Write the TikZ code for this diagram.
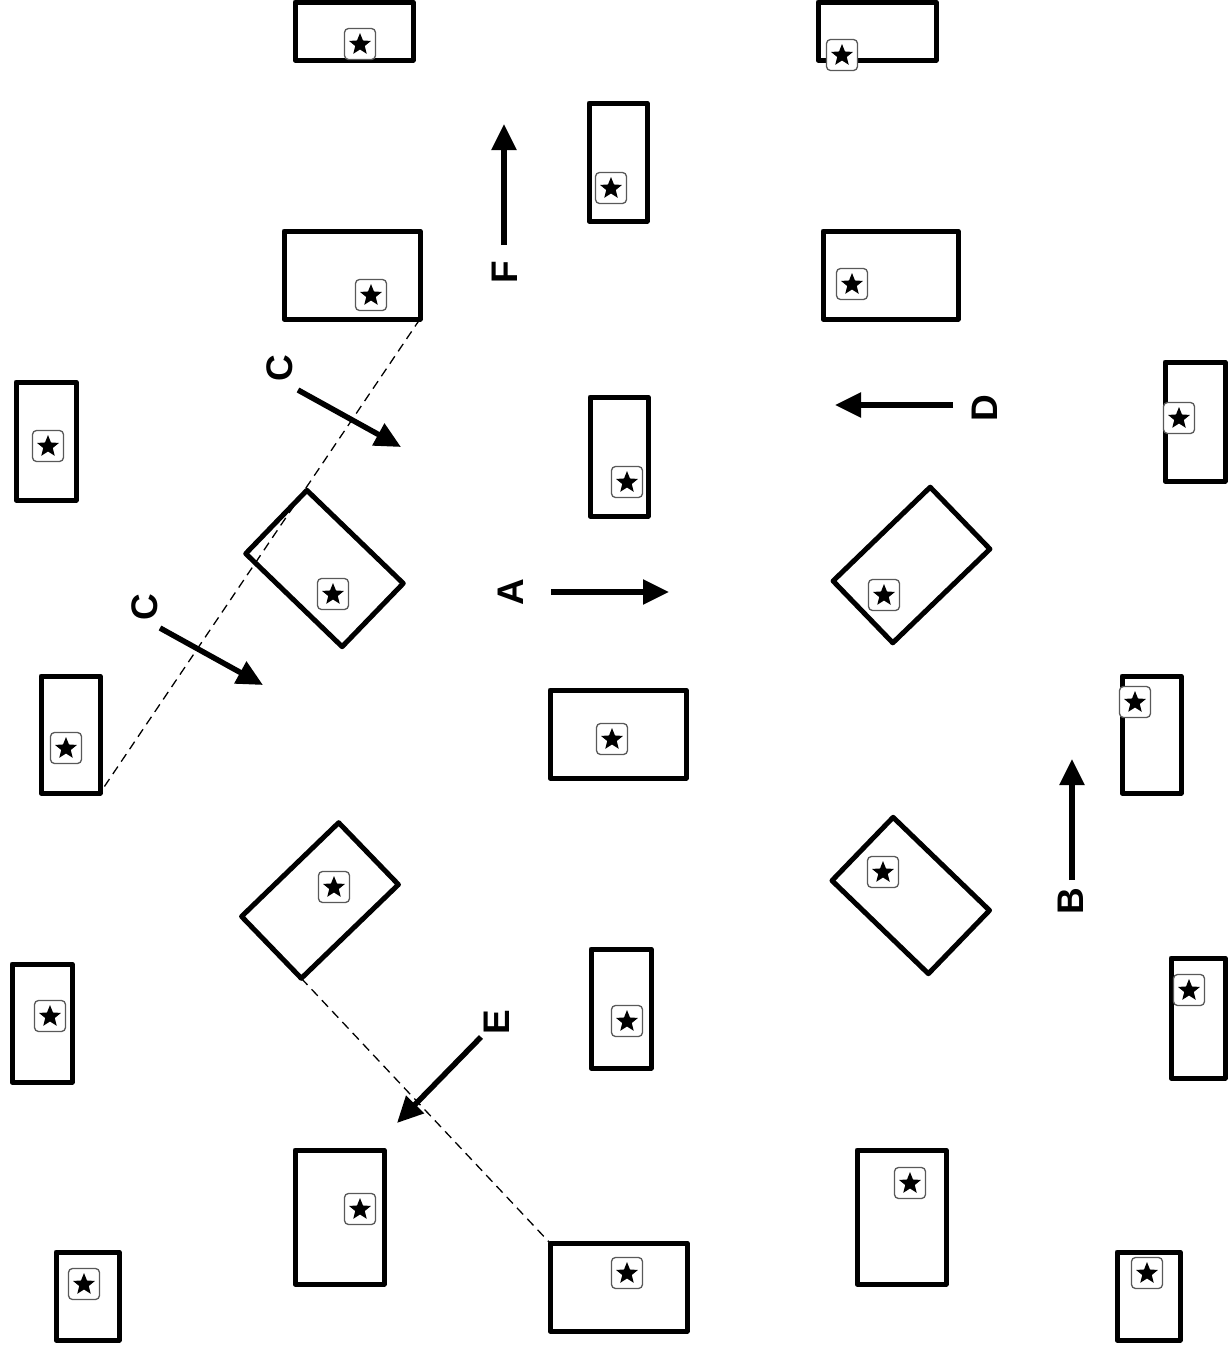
\documentclass[tikz,border=0pt]{standalone}
\usepackage{fontspec}
\setmainfont{Liberation Sans}
\usetikzlibrary{shapes.geometric,arrows.meta}
\begin{document}
\begin{tikzpicture}[x=1pt,y=-1pt,
  lot/.style={draw=black,line width=5pt,inner sep=0pt,outer sep=0pt,rectangle,line join=round},
  badge/.style={draw=black!65,line width=1.3pt,fill=white,rounded corners=4pt,minimum size=31pt,inner sep=0pt,rectangle},
  starmark/.style={star,star points=5,star point ratio=2.3,fill=black,minimum size=23pt,inner sep=0pt},
  flow/.style={line width=5.5pt,-{Triangle[length=26pt,width=24pt]}},
  lbl/.style={font=\fontsize{37}{40}\selectfont\bfseries,rotate=90,inner sep=0pt},
  guide/.style={line width=1.3pt,dash pattern=on 9pt off 6pt}]
\useasboundingbox (0,0) rectangle (1228,1355);
% upright rectangles
\node[lot,minimum width=118pt,minimum height=58pt] (n1) at (354,31) {};
\node[lot,minimum width=118pt,minimum height=58pt] (n2) at (877,31) {};
\node[lot,minimum width=58pt,minimum height=118pt] (n3) at (618,162) {};
\node[lot,minimum width=136pt,minimum height=88pt] (n4) at (352,275) {};
\node[lot,minimum width=135pt,minimum height=88pt] (n5) at (890.5,275) {};
\node[lot,minimum width=60pt,minimum height=118pt] (n6) at (46,441) {};
\node[lot,minimum width=60pt,minimum height=119pt] (n7) at (1195,421.5) {};
\node[lot,minimum width=58pt,minimum height=119pt] (n8) at (619,456.5) {};
\node[lot,minimum width=59pt,minimum height=117pt] (n9) at (70.5,734.5) {};
\node[lot,minimum width=136pt,minimum height=88pt] (n10) at (618,734) {};
\node[lot,minimum width=59pt,minimum height=117pt] (n11) at (1151.5,734.5) {};
\node[lot,minimum width=60pt,minimum height=118pt] (n12) at (42,1023) {};
\node[lot,minimum width=60pt,minimum height=119pt] (n13) at (621,1008.5) {};
\node[lot,minimum width=54pt,minimum height=120pt] (n14) at (1198,1018) {};
\node[lot,minimum width=89pt,minimum height=134pt] (n15) at (339.5,1217) {};
\node[lot,minimum width=89pt,minimum height=134pt] (n16) at (901.5,1217) {};
\node[lot,minimum width=63pt,minimum height=88pt] (n17) at (87.5,1296) {};
\node[lot,minimum width=137pt,minimum height=88pt] (n18) at (618.5,1287) {};
\node[lot,minimum width=63pt,minimum height=88pt] (n19) at (1148.5,1296) {};
% rotated rectangles
\node[lot,minimum width=134pt,minimum height=88pt,rotate=-44] (r1) at (324.5,568.5) {};
\node[lot,minimum width=135pt,minimum height=86pt,rotate=44] (r2) at (911.5,565) {};
\node[lot,minimum width=135pt,minimum height=86pt,rotate=44] (r3) at (320,900.5) {};
\node[lot,minimum width=134pt,minimum height=88pt,rotate=-44] (r4) at (910.75,895.5) {};
% dashed guides
\draw[guide] (n4.south east) -- (n9.south east);
\draw[guide] (r3.south west) -- (n18.north west);
% star badges
\foreach \nm/\px/\py in {b1/360/44, b2/842/55, b3/611/188, b4/371/295, b5/852/284,
  b6/48/446, b7/1179/418, b8/627/482, b9/66/748, b10/612/739, b11/1135/702,
  b12/50/1016, b13/627/1021, b14/1189/990, b15/360/1209, b16/910/1183,
  b17/84/1284, b18/627/1273, b19/1147/1273,
  b20/333/594, b21/884/595, b22/334/887, b23/883/872}{
  \node[badge] (\nm) at (\px,\py) {};
  \node[starmark] (\nm s) at (\px,\py+0.5) {};
}
% arrows
\coordinate (c1a) at (298,390); \coordinate (c1b) at (401,447);
\coordinate (c2a) at (160,628); \coordinate (c2b) at (263,685);
\coordinate (aa) at (551,592); \coordinate (ab) at (669,592);
\coordinate (fa) at (504,245); \coordinate (fb) at (504,124);
\coordinate (da) at (953,405); \coordinate (db) at (835,405);
\coordinate (ba) at (1072,880); \coordinate (bb) at (1072,759);
\coordinate (ea) at (481,1037); \coordinate (eb) at (397,1123);
\draw[flow] (c1a) -- (c1b);
\draw[flow] (c2a) -- (c2b);
\draw[flow] (aa) -- (ab);
\draw[flow] (fa) -- (fb);
\draw[flow] (da) -- (db);
\draw[flow] (ba) -- (bb);
\draw[flow] (ea) -- (eb);
% labels
\node[lbl] (lc1) at (280,368) {C};
\node[lbl] (lc2) at (145,607) {C};
\node[lbl] (la) at (511,592) {A};
\node[lbl] (lf) at (505,272) {F};
\node[lbl] (ld) at (985,408) {D};
\node[lbl] (lb) at (1071,901) {B};
\node[lbl] (le) at (497,1022) {E};
\end{tikzpicture}
\end{document}
